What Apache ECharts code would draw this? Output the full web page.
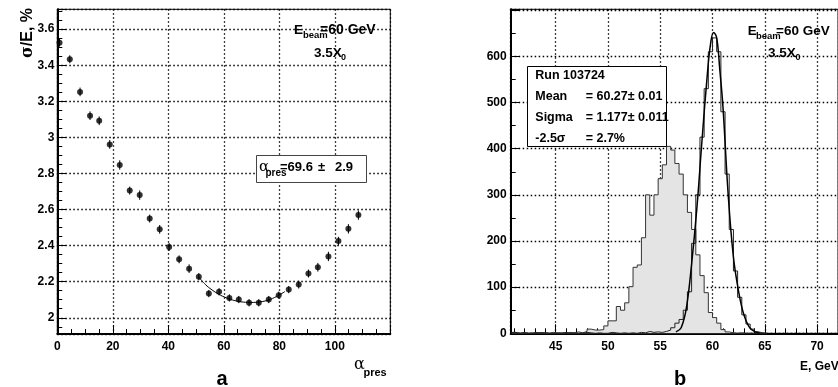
<!DOCTYPE html>
<html>
<head>
<meta charset="utf-8">
<script src="https://cdn.jsdelivr.net/npm/echarts@6.0.0/dist/echarts.min.js"></script>
<style>
  html, body { margin: 0; padding: 0; background: #fff; }
  #chart { width: 838px; height: 387px; }
</style>
</head>
<body>
<div id="chart"></div>
<script>
// panel a: sigma/E versus alpha_pres
const alphaPres = [0.8, 4.5, 8.2, 11.8, 15.1, 18.9, 22.5, 26.1, 29.7, 33.3, 36.9, 40.3, 43.9, 47.5, 51.0, 54.6,
  58.3, 62.0, 65.4, 69.1, 72.6, 76.2, 79.8, 83.4, 87.0, 90.5, 93.9, 97.7, 101.3, 104.9, 108.5];
const resolution = [3.525, 3.433, 3.252, 3.12, 3.092, 2.961, 2.847, 2.705, 2.68, 2.55, 2.49, 2.392, 2.324, 2.272,
  2.228, 2.134, 2.144, 2.11, 2.101, 2.083, 2.083, 2.101, 2.125, 2.156, 2.184, 2.245, 2.28, 2.34, 2.425, 2.493, 2.569];
const resolutionErr = [0.022, 0.022, 0.024, 0.024, 0.024, 0.024, 0.026, 0.022, 0.026, 0.022, 0.024, 0.022, 0.022,
  0.024, 0.02, 0.02, 0.02, 0.02, 0.02, 0.02, 0.02, 0.02, 0.02, 0.02, 0.022, 0.022, 0.024, 0.026, 0.024, 0.026, 0.026];
const fitAlpha = [51, 53, 55, 58, 61, 64, 67, 70, 73, 76, 79, 82];
const fitResolution = [2.225, 2.19, 2.163, 2.132, 2.11, 2.095, 2.087, 2.085, 2.088, 2.098, 2.118, 2.145];

// panel b: energy spectra, 0.4 GeV bins starting at 40.8
const binStart = 40.8;
const binWidth = 0.4;
const countsGray = [1, 0, 2, 0, 1, 0, 2, 1, 0, 2, 0, 1, 0, 2, 1, 3, 1, 4, 9, 7, 7, 8, 16, 27, 27, 58, 50, 66,
  101, 143, 148, 207, 300, 256, 300, 335, 365, 405, 397, 368, 345, 300, 262, 225, 170, 125, 88, 45, 34, 22, 8, 3,
  1, 0, 1, 0, 0, 0, 0, 0, 0];
const countsOpen = [2, 0, 1, 0, 0, 2, 0, 1, 0, 0, 1, 0, 2, 0, 1, 0, 0, 2, 1, 0, 1, 0, 0, 2, 1, 0, 1, 0, 1, 0, 2,
  1, 4, 2, 3, 2, 4, 7, 12, 22, 30, 50, 90, 195, 300, 425, 530, 610, 640, 610, 480, 345, 225, 135, 78, 40, 20, 9,
  3, 1, 0];
const fitE = [56.5, 57, 57.5, 58, 58.5, 59, 59.5, 59.8, 60.1, 60.4, 60.7, 61, 61.5, 62, 62.5, 63, 63.5, 64, 64.5];
const fitCounts = [3, 12, 55, 150, 270, 420, 560, 625, 652, 640, 570, 490, 300, 165, 90, 40, 14, 4, 1];

function stepData(counts) {
  const pts = counts.map((c, i) => [+(binStart + i * binWidth).toFixed(2), c]);
  pts.push([+(binStart + counts.length * binWidth).toFixed(2), 0]);
  return pts;
}

const FONT = 'Liberation Sans';
const labelStyle = { fontFamily: FONT, fontWeight: 'bold', fontSize: 12, color: '#000' };
const black = { color: '#000' };
const dotted = { show: true, lineStyle: { color: '#000', type: [1.5, 2.5], width: 1.3, opacity: 1 } };

function axis(extra) {
  return Object.assign({
    type: 'value',
    axisLine: { onZero: false, lineStyle: { color: '#000', width: 2 } },
    axisTick: { inside: true, length: 9, lineStyle: black },
    minorTick: { show: true, length: 5, lineStyle: black },
    splitLine: dotted
  }, extra);
}

function txt(x, y, text, font, extra) {
  return {
    type: 'text', x: x, y: y, z: 100,
    style: Object.assign({ text: text, font: font, fill: '#000', textVerticalAlign: 'middle' }, extra || {})
  };
}

const chart = echarts.init(document.getElementById('chart'), null, { renderer: 'canvas' });

chart.setOption({
  animation: false,
  backgroundColor: '#fff',
  grid: [
    { left: 57.3, top: 9.3, width: 333, height: 324.7, show: true, borderColor: '#000', borderWidth: 1,
      backgroundColor: 'transparent' },
    { left: 510.7, top: 9.3, width: 335, height: 324, show: true, borderColor: '#000', borderWidth: 1,
      backgroundColor: 'transparent' }
  ],
  xAxis: [
    axis({
      gridIndex: 0, min: 0, max: 120, interval: 20,
      minorTick: { show: true, splitNumber: 4, length: 5, lineStyle: black },
      axisLabel: Object.assign({ margin: 7, showMaxLabel: false }, labelStyle)
    }),
    axis({
      gridIndex: 1, min: 40.7, max: 72, minInterval: 5, maxInterval: 5,
      minorTick: { show: true, splitNumber: 5, length: 5, lineStyle: black },
      axisLabel: Object.assign({ margin: 7, showMinLabel: false, showMaxLabel: false }, labelStyle)
    })
  ],
  yAxis: [
    axis({
      gridIndex: 0, min: 1.91, max: 3.71, minInterval: 0.2, maxInterval: 0.2,
      minorTick: { show: true, splitNumber: 4, length: 5, lineStyle: black },
      axisLabel: Object.assign({ margin: 3, showMinLabel: false, showMaxLabel: false,
        formatter: v => String(+v.toFixed(2)) }, labelStyle)
    }),
    axis({
      gridIndex: 1, min: 0, max: 702, interval: 100,
      minorTick: { show: true, splitNumber: 2, length: 5, lineStyle: black },
      axisLabel: Object.assign({ margin: 4, formatter: v => (v > 650 ? '' : String(v)) }, labelStyle)
    })
  ],
  series: [
    {
      type: 'custom', xAxisIndex: 0, yAxisIndex: 0,
      data: alphaPres.map((a, i) => [a, resolution[i], resolutionErr[i]]),
      renderItem: (params, api) => {
        const top = api.coord([api.value(0), api.value(1) + api.value(2)]);
        const bot = api.coord([api.value(0), api.value(1) - api.value(2)]);
        return {
          type: 'line',
          shape: { x1: top[0], y1: top[1], x2: bot[0], y2: bot[1] },
          style: { stroke: '#000', lineWidth: 1 }
        };
      }
    },
    {
      type: 'scatter', xAxisIndex: 0, yAxisIndex: 0,
      symbol: 'circle', symbolSize: 6,
      itemStyle: { color: '#000' },
      data: alphaPres.map((a, i) => [a, resolution[i]])
    },
    {
      type: 'line', xAxisIndex: 0, yAxisIndex: 0,
      smooth: 0.4, showSymbol: false,
      lineStyle: { color: '#000', width: 1 },
      data: fitAlpha.map((a, i) => [a, fitResolution[i]])
    },
    {
      type: 'line', xAxisIndex: 1, yAxisIndex: 1,
      step: 'end', showSymbol: false,
      lineStyle: { color: '#333', width: 1 },
      areaStyle: { color: '#e4e4e4', opacity: 1 },
      data: stepData(countsGray)
    },
    {
      type: 'line', xAxisIndex: 1, yAxisIndex: 1,
      step: 'end', showSymbol: false,
      lineStyle: { color: '#222', width: 1 },
      data: stepData(countsOpen)
    },
    {
      type: 'line', xAxisIndex: 1, yAxisIndex: 1,
      smooth: 0.4, showSymbol: false,
      lineStyle: { color: '#000', width: 1.5 },
      data: fitE.map((e, i) => [e, fitCounts[i]])
    }
  ],
  graphic: [
    // panel a
    {
      type: 'text', x: 27.5, y: 33, rotation: Math.PI / 2, z: 100,
      style: {
        text: '{s|σ}/E, %', fontFamily: FONT, fontWeight: 'bold', fontSize: 16, fill: '#000',
        textAlign: 'center', textVerticalAlign: 'middle',
        rich: { s: { fontFamily: 'DejaVu Serif', fontWeight: 'bold', fontSize: 16 } }
      }
    },
    txt(294, 30, 'E', 'bold 13.5px ' + FONT),
    txt(303, 35.5, 'beam', 'bold 9.5px ' + FONT),
    txt(320, 30, '=60 GeV', 'bold 14px ' + FONT),
    txt(314, 53, '3.5X', 'bold 13.5px ' + FONT),
    txt(341, 57.5, '0', 'bold 9px ' + FONT),
    {
      type: 'rect', z: 90,
      shape: { x: 256.5, y: 155.5, width: 110, height: 27 },
      style: { fill: '#fff', stroke: '#444', lineWidth: 1 }
    },
    txt(259, 167, 'α', '15px "DejaVu Serif"'),
    txt(265.5, 173, 'pres', 'bold 10px ' + FONT),
    txt(280, 167.5, '=69.6', 'bold 13px ' + FONT),
    txt(318, 167.5, '±', 'bold 13px ' + FONT),
    txt(335, 167.5, '2.9', 'bold 13px ' + FONT),
    txt(354, 364.5, 'α', '16px "DejaVu Serif"'),
    txt(363.5, 372.5, 'pres', 'bold 11px ' + FONT),
    txt(222, 379, 'a', 'bold 20px ' + FONT, { textAlign: 'center' }),

    // panel b
    {
      type: 'rect', z: 90,
      shape: { x: 527.5, y: 66.5, width: 139, height: 80 },
      style: { fill: '#fff', stroke: '#000', lineWidth: 1 }
    },
    txt(535.3, 76, 'Run 103724', 'bold 12.5px ' + FONT),
    txt(535.3, 97, 'Mean', 'bold 12.5px ' + FONT),
    txt(585.7, 97, '= 60.27± 0.01', 'bold 12.5px ' + FONT),
    txt(535.3, 118, 'Sigma', 'bold 12.5px ' + FONT),
    txt(585.7, 118, '= 1.177± 0.011', 'bold 12.5px ' + FONT),
    txt(535.3, 138.5, '-2.5σ', 'bold 12.5px ' + FONT),
    txt(585.7, 138.5, '= 2.7%', 'bold 12.5px ' + FONT),
    txt(747.7, 31, 'E', 'bold 13.5px ' + FONT),
    txt(756, 36.5, 'beam', 'bold 9.5px ' + FONT),
    txt(776, 31, '=60 GeV', 'bold 13.5px ' + FONT),
    txt(768, 53, '3.5X', 'bold 13.5px ' + FONT),
    txt(795.5, 57.5, '0', 'bold 9px ' + FONT),
    txt(800, 367, 'E, GeV', 'bold 12px ' + FONT),
    txt(680, 379, 'b', 'bold 20px ' + FONT, { textAlign: 'center' })
  ]
});
</script>
</body>
</html>
